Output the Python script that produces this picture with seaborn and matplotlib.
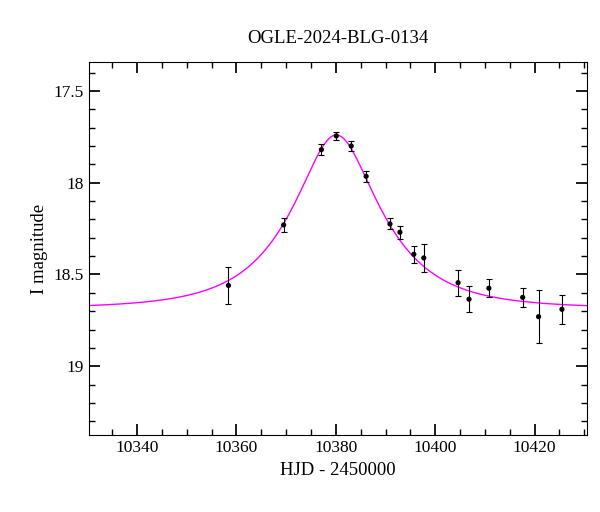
import numpy as np
import pandas as pd
import matplotlib.pyplot as plt
import seaborn as sns
from matplotlib.ticker import MultipleLocator, FuncFormatter

# Photometry
hjd = [10358.4, 10369.5, 10377.1, 10380.1, 10383.1, 10386.1, 10390.9, 10392.9,
       10395.7, 10397.7, 10404.6, 10406.8, 10410.8, 10417.6, 10420.8, 10425.5]
mag = [18.56, 18.23, 17.82, 17.745, 17.80, 17.965, 18.225, 18.27,
       18.39, 18.41, 18.545, 18.635, 18.575, 18.625, 18.73, 18.69]
err = [0.10, 0.04, 0.03, 0.02, 0.025, 0.03, 0.03, 0.035,
       0.045, 0.075, 0.07, 0.07, 0.05, 0.05, 0.145, 0.08]

# Point-lens model parameters
t0, tE, u0, I0 = 10380.1, 16.0, 0.45, 18.685

sns.set_theme(style='ticks', font='Liberation Serif',
              rc={'text.color': 'black', 'axes.labelcolor': 'black',
                  'xtick.color': 'black', 'ytick.color': 'black'})
fig = plt.figure(figsize=(6, 5.12), dpi=100)
ax = fig.add_axes([0.148, 0.150, 0.83, 0.729])

t = np.linspace(10330, 10431, 600)
u = np.sqrt(u0**2 + ((t - t0) / tE)**2)
A = (u**2 + 2) / (u * np.sqrt(u**2 + 4))
model = pd.DataFrame({'t': t, 'm': I0 - 2.5 * np.log10(A)})
sns.lineplot(data=model, x='t', y='m', color='magenta', lw=1, ax=ax)

df = pd.DataFrame({'hjd': hjd, 'mag': mag, 'err': err})
ax.errorbar(df['hjd'], df['mag'], yerr=df['err'], fmt='none', ecolor='black',
            elinewidth=0.8, capsize=2, capthick=0.8)
sns.scatterplot(data=df, x='hjd', y='mag', color='black', s=14, edgecolor='none', ax=ax, zorder=3)

ax.set_xlim(10330.3, 10430.5)
ax.set_ylim(19.376, 17.342)
ax.xaxis.set_major_locator(MultipleLocator(20))
ax.xaxis.set_minor_locator(MultipleLocator(5))
ax.yaxis.set_major_locator(MultipleLocator(0.5))
ax.yaxis.set_minor_locator(MultipleLocator(0.1))
ax.yaxis.set_major_formatter(FuncFormatter(lambda v, p: f'{v:g}'))
ax.tick_params(which='both', direction='in', top=True, right=True, labelsize=12.5)
ax.tick_params(which='major', length=8)
ax.tick_params(which='minor', length=4)
for s in ax.spines.values():
    s.set_color('black')
    s.set_linewidth(0.8)
ax.set_xlabel('HJD - 2450000', fontsize=13.5)
ax.set_ylabel('I magnitude', fontsize=13.5)
ax.set_title('OGLE-2024-BLG-0134', fontsize=13.5, pad=14)

fig.savefig('out.png', dpi=100)
